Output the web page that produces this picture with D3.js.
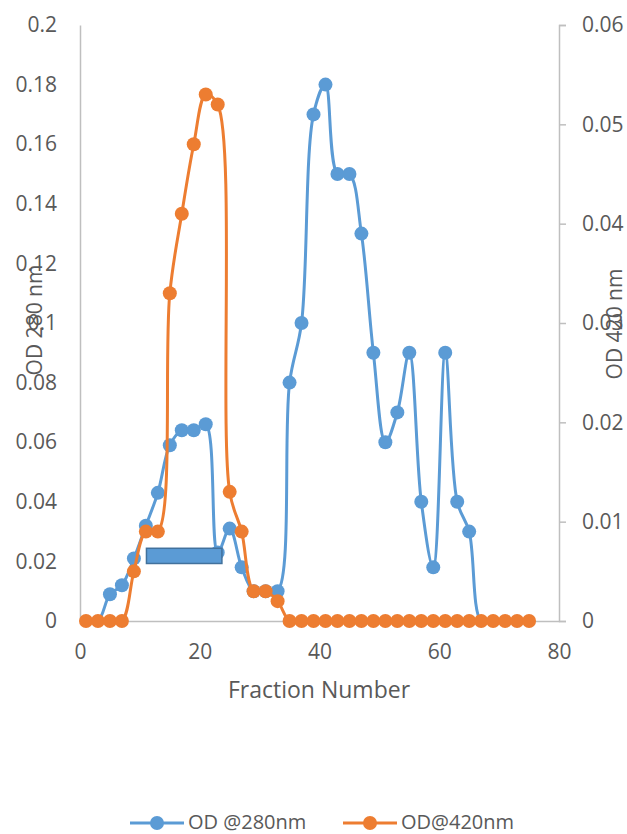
<!DOCTYPE html>
<html><head><meta charset="utf-8">
<script src="https://cdn.jsdelivr.net/npm/d3@7"></script>
<style>body{margin:0;background:#fff}svg{display:block}</style>
</head><body>
<script>
// ---- data ----
const fractions = [1,3,5,7,9,11,13,15,17,19,21,23,25,27,29,31,33,35,37,39,41,43,45,47,49,51,53,55,57,59,61,63,65,67,69,71,73,75];
const od280 = [0,0,0.009,0.012,0.021,0.032,0.043,0.059,0.064,0.064,0.066,0.023,0.031,0.018,0.010,0.010,0.010,0.080,0.100,0.170,0.180,0.150,0.150,0.130,0.090,0.060,0.070,0.090,0.040,0.018,0.090,0.040,0.030,0,0,0,0,0];
const od420 = [0,0,0,0,0.005,0.009,0.009,0.033,0.041,0.048,0.053,0.052,0.013,0.009,0.003,0.003,0.002,0,0,0,0,0,0,0,0,0,0,0,0,0,0,0,0,0,0,0,0,0];
const leftTicks = [0,0.02,0.04,0.06,0.08,0.1,0.12,0.14,0.16,0.18,0.2];
const rightTicks = [0,0.01,0.02,0.03,0.04,0.05,0.06];
const xTicks = [0,20,40,60,80];
const seriesNames = ["OD @280nm","OD@420nm"];
const boxFrac = [11.1, 23.7];   // annotation box extent (fraction number)
const boxOD = [0.0193, 0.0244]; // annotation box extent (OD 280)

const W = 627, H = 834;
const blue = "#5b9bd5", orange = "#ed7d31", txt = "#595959", axisC = "#bfbfbf";
const font = "'Open Sans', sans-serif";

const svg = d3.select("body").append("svg").attr("width", W).attr("height", H);

const x = d3.scaleLinear().domain([0,80]).range([80,559]);
const yL = d3.scaleLinear().domain([0,0.2]).range([621,25]);
const yR = d3.scaleLinear().domain([0,0.06]).range([621,25]);

const fmt = d => d===0 ? "0" : String(+d.toFixed(2));

// axes
const gx = svg.append("g").attr("transform","translate(0,621)")
  .call(d3.axisBottom(x).tickValues(xTicks).tickSize(0).tickPadding(23).tickFormat(d3.format("d")));
const gl = svg.append("g").attr("transform","translate(80,0)")
  .call(d3.axisLeft(yL).tickValues(leftTicks).tickSize(0).tickPadding(23).tickFormat(fmt));
const gr = svg.append("g").attr("transform","translate(559,0)")
  .call(d3.axisRight(yR).tickValues(rightTicks).tickSize(7).tickPadding(16).tickFormat(fmt));
[gx,gl,gr].forEach(g=>{
  g.select(".domain").attr("stroke",axisC).attr("stroke-width",1.5);
  g.selectAll(".tick line").attr("stroke",axisC).attr("stroke-width",1.5);
  g.selectAll(".tick text").attr("fill",txt).style("font-family",font).style("font-size","21px");
});

// axis titles
svg.append("text").attr("x",319).attr("y",698).attr("text-anchor","middle")
  .attr("fill",txt).style("font-family",font).style("font-size","23px").text("Fraction Number");
svg.append("text").attr("transform","translate(42,320) rotate(-90)").attr("text-anchor","middle")
  .attr("fill",txt).style("font-family",font).style("font-size","21px").text("OD 280 nm");
svg.append("text").attr("transform","translate(622,324) rotate(-90)").attr("text-anchor","middle")
  .attr("fill",txt).style("font-family",font).style("font-size","21px").text("OD 420 nm");

// series
const d280 = fractions.map((f,i)=>[f,od280[i]]);
const d420 = fractions.map((f,i)=>[f,od420[i]]);
const line280 = d3.line().x(d=>x(d[0])).y(d=>yL(d[1])).curve(d3.curveCatmullRom.alpha(0.5));
const line420 = d3.line().x(d=>x(d[0])).y(d=>yR(d[1])).curve(d3.curveCatmullRom.alpha(0.5));

svg.append("path").datum(d280).attr("d",line280).attr("fill","none").attr("stroke",blue).attr("stroke-width",3);
svg.append("g").selectAll("circle").data(d280.filter(d=>d[1]>0)).join("circle")
  .attr("cx",d=>x(d[0])).attr("cy",d=>yL(d[1])).attr("r",7).attr("fill",blue);

svg.append("path").datum(d420).attr("d",line420).attr("fill","none").attr("stroke",orange).attr("stroke-width",3);
svg.append("g").selectAll("circle").data(d420).join("circle")
  .attr("cx",d=>x(d[0])).attr("cy",d=>yR(d[1])).attr("r",7).attr("fill",orange);

// annotation box
svg.append("rect").attr("x",x(boxFrac[0])).attr("y",yL(boxOD[1]))
  .attr("width",x(boxFrac[1])-x(boxFrac[0])).attr("height",yL(boxOD[0])-yL(boxOD[1]))
  .attr("fill",blue).attr("stroke","#41719c").attr("stroke-width",1.5);

// legend
const leg = [{name:seriesNames[0],c:blue,x0:130},{name:seriesNames[1],c:orange,x0:343}];
leg.forEach(l=>{
  const g = svg.append("g");
  g.append("line").attr("x1",l.x0).attr("x2",l.x0+54).attr("y1",823).attr("y2",823).attr("stroke",l.c).attr("stroke-width",3);
  g.append("circle").attr("cx",l.x0+27).attr("cy",823).attr("r",7).attr("fill",l.c);
  g.append("text").attr("x",l.x0+58).attr("y",829).attr("fill",txt).style("font-family",font).style("font-size","20px").text(l.name);
});
</script>
</body></html>
